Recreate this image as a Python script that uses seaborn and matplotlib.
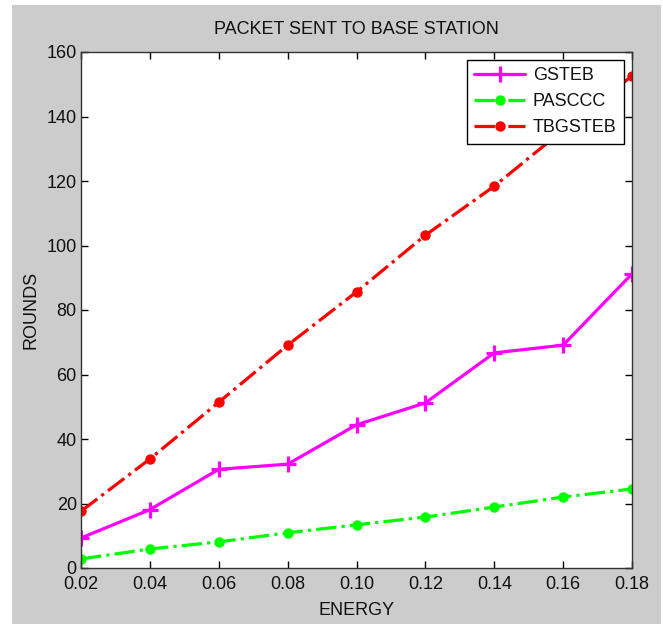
import numpy as np
import pandas as pd
import matplotlib
matplotlib.use('Agg')
import matplotlib.pyplot as plt
import seaborn as sns
from matplotlib.patches import Rectangle

energy = [0.02, 0.04, 0.06, 0.08, 0.10, 0.12, 0.14, 0.16, 0.18]
gsteb = [9.3, 18.1, 30.6, 32.2, 44.4, 51.2, 66.7, 69.1, 91.2]
pasccc = [2.8, 5.9, 8.1, 10.9, 13.4, 15.8, 18.9, 22.0, 24.5]
tbgsteb = [17.6, 33.8, 51.4, 69.1, 85.6, 103.2, 118.4, 135.8, 152.6]
yticks = [0, 20, 40, 60, 80, 100, 120, 140, 160]

sns.set_style('ticks')
plt.rcParams['font.family'] = ['Liberation Sans', 'DejaVu Sans']
plt.rcParams['xtick.direction'] = 'in'
plt.rcParams['ytick.direction'] = 'in'
plt.rcParams['text.color'] = '#111111'
plt.rcParams['axes.labelcolor'] = '#111111'

fig = plt.figure(figsize=(6.63, 6.24), dpi=100)
fig.patch.set_facecolor('white')
# gray matlab style frame (white strip left/top like the screenshot)
fig.patches.append(Rectangle((12/663, 0), 649/663, 619/624, transform=fig.transFigure,
                             facecolor='#cccccc', edgecolor='none', zorder=-10))
ax = fig.add_axes([81/663, 1-568/624, 551/663, 516/624])
ax.set_facecolor('white')

df = pd.DataFrame({'energy': energy, 'GSTEB': gsteb, 'PASCCC': pasccc, 'TBGSTEB': tbgsteb})

sns.lineplot(data=df, x='energy', y='GSTEB', ax=ax, color='#ff00ff', linestyle='-',
             linewidth=2.3, marker='+', markersize=11, markeredgewidth=2.3,
             markeredgecolor='#ff00ff', label='GSTEB')
sns.lineplot(data=df, x='energy', y='PASCCC', ax=ax, color='#00ff00', linestyle='-.',
             linewidth=2.3, marker='o', markersize=7.5, markeredgewidth=0, label='PASCCC')
sns.lineplot(data=df, x='energy', y='TBGSTEB', ax=ax, color='#ff0000', linestyle='-.',
             linewidth=2.3, marker='o', markersize=7.5, markeredgewidth=0, label='TBGSTEB')

ax.set_xlim(0.02, 0.18)
ax.set_ylim(0, 160)
ax.set_xticks(energy)
ax.set_xticklabels(['%.2f' % e for e in energy])
ax.set_yticks(yticks)
ax.tick_params(axis='both', labelsize=13, length=5, width=1, color='black',
               labelcolor='#111111', top=True, right=True, pad=3)
ax.tick_params(axis='x', pad=6)
for s in ax.spines.values():
    s.set_visible(True)
    s.set_linewidth(1)
    s.set_color('#333333')

ax.set_title('PACKET SENT TO BASE STATION', fontsize=13, pad=13)
ax.set_xlabel('ENERGY', fontsize=13, labelpad=6)
ax.set_ylabel('ROUNDS', fontsize=13, labelpad=5)

leg = ax.legend(loc='upper right', fontsize=13, frameon=True, fancybox=False,
                edgecolor='black', framealpha=1, handlelength=2.8, labelspacing=0.5,
                borderaxespad=0.45, handletextpad=0.45)
leg.get_frame().set_linewidth(1)

fig.savefig('out.png', dpi=100, facecolor=fig.get_facecolor())
